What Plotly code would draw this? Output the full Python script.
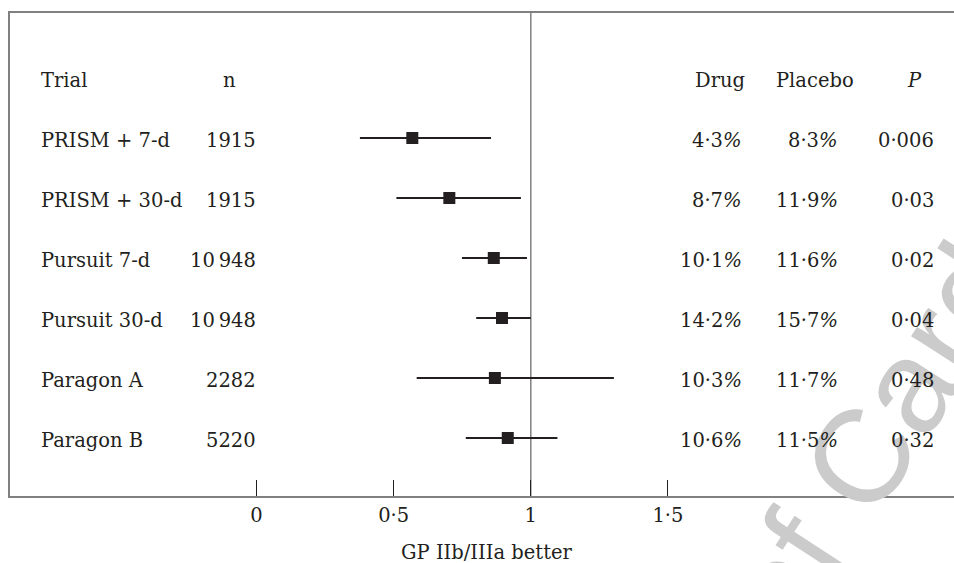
import plotly.graph_objects as go

trials = ["PRISM + 7-d", "PRISM + 30-d", "Pursuit 7-d", "Pursuit 30-d", "Paragon A", "Paragon B"]
n_patients = ["1915", "1915", "10\u2009948", "10\u2009948", "2282", "5220"]
odds_ratio = [0.568, 0.703, 0.865, 0.895, 0.869, 0.916]
ci_low = [0.377, 0.510, 0.749, 0.801, 0.584, 0.763]
ci_high = [0.855, 0.964, 0.986, 1.000, 1.303, 1.097]
drug_rate = ["4·3", "8·7", "10·1", "14·2", "10·3", "10·6"]
placebo_rate = ["8·3", "11·9", "11·6", "15·7", "11·7", "11·5"]
p_values = ["0·006", "0·03", "0·02", "0·04", "0·48", "0·32"]
tick_vals = [0, 0.5, 1, 1.5]
tick_text = ["0", "0·5", "1", "1·5"]

W, H = 954, 563               # page / figure size (body margin removed)
BOX_L, BOX_T, BOX_B = 10, 13, 496
PX0, PXU = 256.5, 274.3       # pixel of value 0, pixels per unit
ROW0, ROWSTEP = 138, 60       # pixel of first row, row spacing

ML, MT, MR, MB = BOX_L, BOX_T, 0, H - BOX_B

def px2paper(px):
    return (px - BOX_L) / (W - BOX_L)

def py2paper(py):
    return (BOX_B - py) / (BOX_B - BOX_T)

x_range = [(BOX_L - PX0) / PXU, (W - PX0) / PXU]
y_range = [(BOX_B - ROW0) / ROWSTEP, (BOX_T - ROW0) / ROWSTEP]

FONT = "DejaVu Serif"
FS = 19.5
INK = "#231f20"
GREY = "#808080"

rows = list(range(len(trials)))

fig = go.Figure()
fig.add_trace(go.Scatter(
    x=odds_ratio, y=rows, mode="markers",
    marker=dict(symbol="square", size=12, color=INK),
    error_x=dict(type="data", symmetric=False,
                 array=[h - o for h, o in zip(ci_high, odds_ratio)],
                 arrayminus=[o - l for o, l in zip(odds_ratio, ci_low)],
                 width=0, thickness=2, color=INK),
    showlegend=False, hoverinfo="skip"))

ann = []
# watermark (drawn first, below text)
ann.append(dict(xref="paper", yref="paper", x=px2paper(872), y=py2paper(440),
                text="of Card", textangle=-57, showarrow=False,
                font=dict(family="Liberation Sans", size=132, color="#cbcbcb"),
                xanchor="center", yanchor="middle"))

def txt(text, px, row, anchor):
    ann.append(dict(xref="paper", yref="y", x=px2paper(px), y=row, text=text,
                    showarrow=False, xanchor=anchor, yanchor="middle", yshift=-2,
                    font=dict(family=FONT, size=FS, color=INK)))

hdr = -1
txt("Trial", 39, hdr, "left")
txt("n", 229, hdr, "center")
txt("Drug", 719.5, hdr, "center")
txt("Placebo", 815, hdr, "center")
txt("<i>P</i>", 914, hdr, "center")
for i in rows:
    txt(trials[i], 39, i, "left")
    txt(n_patients[i], 258, i, "right")
    txt(drug_rate[i] + "<i>%</i>", 744, i, "right")
    txt(placebo_rate[i] + "<i>%</i>", 840, i, "right")
    txt(p_values[i], 936, i, "right")

ann.append(dict(xref="paper", yref="paper", x=px2paper(487), y=py2paper(552),
                text="GP IIb/IIIa better", showarrow=False, xanchor="center", yanchor="middle",
                font=dict(family=FONT, size=FS, color=INK)))

shapes = [
    dict(type="line", xref="x", yref="paper", x0=1, x1=1, y0=0, y1=1,
         line=dict(color=GREY, width=1.5), layer="below"),
]

fig.update_layout(
    width=W, height=H, margin=dict(l=ML, r=MR, t=MT, b=MB),
    paper_bgcolor="white", plot_bgcolor="white",
    xaxis=dict(range=x_range, showgrid=False, zeroline=False,
               showline=True, mirror=True, linecolor=GREY, linewidth=1.5,
               tickmode="array", tickvals=tick_vals, ticktext=tick_text,
               ticks="inside", ticklen=16, tickwidth=1, tickcolor=INK,
               tickfont=dict(family=FONT, size=FS, color=INK), ticklabelstandoff=1),
    yaxis=dict(range=y_range, showgrid=False, zeroline=False, showticklabels=False,
               showline=True, mirror=False, linecolor=GREY, linewidth=1.5, ticks=""),
    annotations=ann, shapes=shapes,
)

fig.write_html("out.html", config={"displayModeBar": False},
               post_script="document.body.style.margin='0';document.body.style.overflow='hidden';")
